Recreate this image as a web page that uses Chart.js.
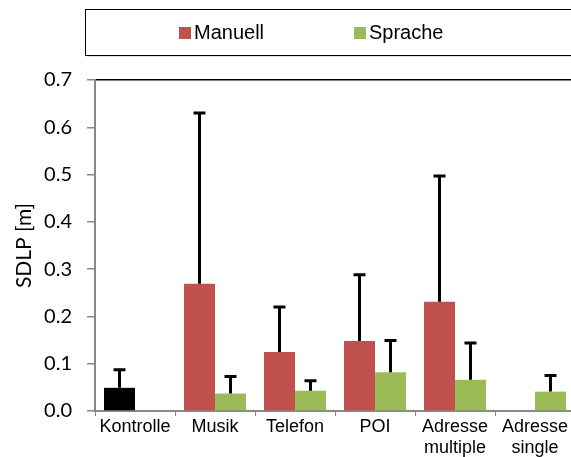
<!DOCTYPE html>
<html>
<head>
<meta charset="utf-8">
<script src="https://cdn.jsdelivr.net/npm/chart.js@4"></script>
<style>
    html, body { margin: 0; padding: 0; background: #fff; }
    #wrap { width: 571px; height: 457px; overflow: hidden; position: relative; }
    #wrap canvas { position: absolute; left: 0; top: 0; }
</style>
</head>
<body>
<div id="wrap"><canvas id="chart" width="600" height="457"></canvas></div>
<script>
const categories = ['Kontrolle', 'Musik', 'Telefon', 'POI', ['Adresse', 'multiple'], ['Adresse', 'single']];

const manuell = [0.049, 0.269, 0.125, 0.148, 0.231, null];
const manuellErr = [0.038, 0.361, 0.095, 0.140, 0.266, null];

const sprache = [null, 0.037, 0.043, 0.082, 0.066, 0.041];
const spracheErr = [null, 0.036, 0.021, 0.067, 0.078, 0.034];

const yTicks = [0, 0.1, 0.2, 0.3, 0.4, 0.5, 0.6, 0.7];

const RED = '#C0504D';
const GREEN = '#9BBB59';
const AXIS_GRAY = '#888888';

// control group sits in the Manuell series but is painted black
const manuellColors = categories.map((c, i) => i === 0 ? '#000000' : RED);

// upper error whiskers with a small cap
const errorBars = {
    id: 'errorBars',
    afterDatasetsDraw(chart, args, opts) {
        const ctx = chart.ctx;
        const y = chart.scales.y;
        chart.data.datasets.forEach((ds, di) => {
            const meta = chart.getDatasetMeta(di);
            meta.data.forEach((bar, i) => {
                const v = ds.data[i];
                const e = ds.errors[i];
                if (v == null || e == null) return;
                const yTop = y.getPixelForValue(v + e);
                const yBase = y.getPixelForValue(v);
                ctx.save();
                ctx.strokeStyle = '#000';
                ctx.lineWidth = opts.width;
                ctx.beginPath();
                ctx.moveTo(bar.x, yBase);
                ctx.lineTo(bar.x, yTop);
                ctx.moveTo(bar.x - opts.cap / 2, yTop);
                ctx.lineTo(bar.x + opts.cap / 2, yTop);
                ctx.stroke();
                ctx.restore();
            });
        });
    }
};

// boxed legend above the plot
const boxLegend = {
    id: 'boxLegend',
    afterDraw(chart, args, opts) {
        const ctx = chart.ctx;
        ctx.save();
        ctx.fillStyle = 'rgba(0,0,0,0.12)';
        ctx.fillRect(opts.left + 2, opts.bottom, chart.width, 2);
        ctx.strokeStyle = '#000';
        ctx.lineWidth = 1;
        ctx.strokeRect(opts.left + 0.5, opts.top + 0.5, chart.width, opts.bottom - opts.top);

        ctx.font = opts.font;
        ctx.textBaseline = 'middle';
        ctx.textAlign = 'left';
        const mid = (opts.top + opts.bottom) / 2;
        chart.data.datasets.forEach((ds, i) => {
            const x = opts.startX + i * opts.step;
            ctx.fillStyle = ds.legendColor;
            ctx.fillRect(x, mid - opts.box / 2 + 1, opts.box, opts.box);
            ctx.fillStyle = '#000';
            ctx.fillText(ds.label, x + opts.box + 3, mid + 1);
        });
        ctx.restore();
    }
};

const ctx = document.getElementById('chart').getContext('2d');

new Chart(ctx, {
    type: 'bar',
    data: {
        labels: categories,
        datasets: [{
            label: 'Manuell',
            data: manuell,
            errors: manuellErr,
            backgroundColor: manuellColors,
            legendColor: RED
        }, {
            label: 'Sprache',
            data: sprache,
            errors: spracheErr,
            backgroundColor: GREEN,
            legendColor: GREEN
        }]
    },
    options: {
        responsive: false,
        animation: false,
        layout: { padding: { top: 80, right: 25, left: 0, bottom: 0 } },
        datasets: {
            bar: { categoryPercentage: 0.775, barPercentage: 1.0, borderWidth: 0 }
        },
        scales: {
            x: {
                afterFit: function(scale) { scale.height = 46; },
                grid: {
                    offset: true,
                    drawOnChartArea: false,
                    color: AXIS_GRAY,
                    tickLength: 5
                },
                border: { color: AXIS_GRAY, width: 2 },
                ticks: {
                    color: '#000',
                    padding: 1,
                    maxRotation: 0,
                    autoSkip: false,
                    font: { family: '"Liberation Sans", Arial, sans-serif', size: 18, lineHeight: 1.14 }
                }
            },
            y: {
                min: 0,
                max: 0.7,
                afterFit: function(scale) { scale.width = 95; },
                afterBuildTicks: function(scale) {
                    scale.ticks = yTicks.map(v => ({ value: v }));
                },
                grid: {
                    color: c => c.tick && c.tick.value === 0.7 ? '#000' : 'rgba(0,0,0,0)',
                    tickColor: AXIS_GRAY,
                    tickLength: 8,
                    lineWidth: 1.5
                },
                border: { color: AXIS_GRAY, width: 2 },
                ticks: {
                    color: '#000',
                    padding: 15,
                    font: { family: 'Lato, sans-serif', size: 20 },
                    callback: v => v.toFixed(1)
                },
                title: {
                    display: true,
                    text: 'SDLP [m]',
                    color: '#000',
                    padding: { top: 12, bottom: 0 },
                    font: { family: 'Lato, sans-serif', size: 21 }
                }
            }
        },
        plugins: {
            legend: { display: false },
            tooltip: { enabled: false },
            errorBars: { width: 3, cap: 12 },
            boxLegend: {
                left: 85, top: 9, bottom: 55,
                startX: 179, step: 175, box: 12,
                font: '20px "Liberation Sans", Arial, sans-serif'
            }
        }
    },
    plugins: [errorBars, boxLegend]
});
</script>
</body>
</html>
